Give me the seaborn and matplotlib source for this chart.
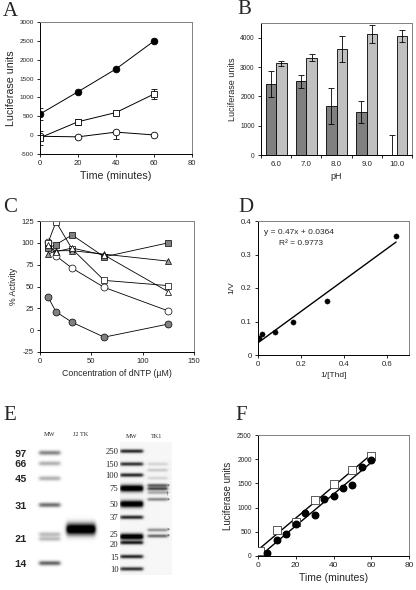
import matplotlib
matplotlib.use("Agg")
import matplotlib.pyplot as plt
import numpy as np
import pandas as pd
import seaborn as sns

# ---- panel A: luciferase units vs time ----
time_a = [0, 20, 40, 60]
a_filled = [560, 1150, 1755, 2495]
a_filled_err = [150, 0, 0, 0]
a_square = [-70, 355, 600, 1090]
a_square_err = [190, 80, 40, 140]
a_open = [-30, -45, 80, 5]
a_open_err_lo = [60, 20, 190, 30]
a_open_err_hi = [60, 20, 0, 30]

# ---- panel B: pH profile ----
ph_labels = ["6.0", "7.0", "8.0", "9.0", "10.0"]
b_dark = [2430, 2520, 1660, 1450, 0]
b_dark_err = [440, 220, 610, 375, 670]
b_light = [3120, 3320, 3620, 4130, 4055]
b_light_err = [70, 130, 440, 310, 200]

# ---- panel C: dNTP inhibition ----
dntp_conc = [7.8, 15.6, 31.25, 62.5, 125]
c_gray_circles = [38, 21, 9, -8, 7]
c_open_circles = [101, 85, 71, 49, 22]
c_open_squares = [100, 124, 93, 57, 51]
c_gray_squares = [94, 98, 109, 84, 100]
c_gray_triangles = [87, 91, 91, 87, 79]
c_open_triangles = [97, 90, 94, 86, 44]

# ---- panel D: double reciprocal ----
inv_thd = [0.005, 0.02, 0.08, 0.16, 0.32, 0.64]
inv_v = [0.051, 0.062, 0.070, 0.100, 0.160, 0.355]
fit_slope = 0.47
fit_intercept = 0.0364
fit_r2 = 0.9773

# ---- panel E: SDS-PAGE gels (migration in % of gel length) ----
gel1_tick_kda = ["97", "66", "45", "31", "21", "14"]
gel1_tick_mig = [9.4, 17.3, 28.4, 48.1, 72.8, 91.3]
gel1_ladder_mig = [9.4, 17.3, 28.4, 48.1, 69.9, 73.3, 91.3]
gel1_ladder_int = [0.55, 0.35, 0.35, 0.65, 0.3, 0.3, 0.7]
j2tk_mig = 66.1
gel2_tick_kda = ["250", "150", "100", "75", "50", "37", "25", "20", "15", "10"]
gel2_tick_mig = [6.8, 16.5, 24.8, 34.8, 46.6, 56.6, 68.8, 77.0, 86.2, 95.5]
gel2_ladder_mig = [6.8, 16.5, 24.8, 34.8, 46.6, 56.6, 71.2, 75.7, 86.2, 95.5]
gel2_ladder_int = [0.95, 0.9, 0.95, 1.4, 1.4, 0.95, 1.4, 1.0, 0.95, 0.9]
gel2_ladder_sig = [1.0, 1.0, 1.0, 1.8, 1.8, 1.0, 1.6, 1.0, 1.0, 1.0]
tk1_mig = [16.5, 21.1, 27.1, 32.6, 35.1, 38.0, 43.1, 66.2, 70.7]
tk1_int = [0.15, 0.2, 0.15, 0.7, 0.8, 0.35, 0.5, 0.45, 0.65]
tk1_marks = ["*", "†", "*", "*", "*"]
tk1_mark_mig = [33.0, 38.5, 43.5, 66.2, 70.9]

# ---- panel F: luciferase time course ----
f_sq_time = [1, 10, 20, 30, 40, 50, 60]
f_sq_units = [110, 530, 710, 1150, 1480, 1775, 2060]
f_ci_time = [5, 10, 15, 20, 25, 30, 35, 40, 45, 50, 55, 60]
f_ci_units = [65, 330, 460, 670, 880, 850, 1185, 1245, 1400, 1470, 1845, 1980]

sns.set_theme(style="ticks")
plt.rcParams["font.family"] = ["Liberation Sans", "DejaVu Sans"]
plt.rcParams["axes.linewidth"] = 0.7
plt.rcParams["axes.unicode_minus"] = False

W, H = 416, 590
fig = plt.figure(figsize=(W / 100, H / 100), dpi=100)


def px_axes(left, top, right, bottom):
    return fig.add_axes([left / W, 1 - bottom / H, (right - left) / W, (bottom - top) / H])


def box_style(ax, xsize=5.5, ysize=5):
    for side in ["left", "bottom"]:
        ax.spines[side].set_color("black")
    for side in ["top", "right"]:
        ax.spines[side].set_visible(True)
        ax.spines[side].set_color("#808080")
    ax.tick_params(axis="x", labelsize=xsize, length=2.5, width=0.7, pad=2, direction="out")
    ax.tick_params(axis="y", labelsize=ysize, length=2.5, width=0.7, pad=2, direction="out")


def letter(x, y, s):
    fig.text(x / W, 1 - y / H, s, family="Liberation Serif", fontsize=15, va="center", ha="left")


line_kws = dict(color="black", lw=0.7, markeredgecolor="black", markeredgewidth=0.6)

# ---- A ----
ax = px_axes(40, 22, 192, 154)
ax.errorbar(time_a, a_filled, yerr=a_filled_err, fmt="none", ecolor="black", elinewidth=0.6, capsize=2, capthick=0.6)
ax.errorbar(time_a, a_square, yerr=a_square_err, fmt="none", ecolor="black", elinewidth=0.6, capsize=2, capthick=0.6)
ax.errorbar(time_a, a_open, yerr=[a_open_err_lo, a_open_err_hi], fmt="none", ecolor="black", elinewidth=0.6, capsize=2, capthick=0.6)
sns.lineplot(x=time_a, y=a_open, ax=ax, marker="o", markersize=4.8, markerfacecolor="white", **line_kws)
sns.lineplot(x=time_a, y=a_square, ax=ax, marker="s", markersize=4.8, markerfacecolor="white", **line_kws)
sns.lineplot(x=time_a, y=a_filled, ax=ax, marker="o", markersize=4.8, markerfacecolor="black", **line_kws)
ax.set_xlim(0, 80)
ax.set_ylim(-500, 3000)
ax.set_xticks([0, 20, 40, 60, 80])
ax.set_yticks(range(-500, 3001, 500))
box_style(ax, 5.5, 4.6)
ax.set_xlabel("Time (minutes)", fontsize=7.7, labelpad=3)
ax.set_ylabel("Luciferase units", fontsize=7.7, labelpad=2)
letter(3, 11, "A")

# ---- B ----
ax = px_axes(261, 23, 412, 155)
df_b = pd.DataFrame({
    "pH": ph_labels * 2,
    "units": b_dark + b_light,
    "series": ["dark"] * len(ph_labels) + ["light"] * len(ph_labels),
})
sns.barplot(data=df_b, x="pH", y="units", hue="series", palette=["#808080", "#c0c0c0"],
            edgecolor="black", linewidth=0.6, width=0.69, errorbar=None, legend=False, ax=ax)
for cont, errs in zip(ax.containers, [b_dark_err, b_light_err]):
    for bar, err in zip(cont, errs):
        ax.errorbar(bar.get_x() + bar.get_width() / 2, bar.get_height(), yerr=err, fmt="none",
                    ecolor="black", elinewidth=0.6, capsize=2.5, capthick=0.6)
ax.set_xlim(-0.5, len(ph_labels) - 0.5)
ax.set_ylim(0, 4500)
ax.set_yticks(range(0, 4001, 1000))
box_style(ax, 5.7, 4.8)
ax.set_xticks(np.arange(len(ph_labels) + 1) - 0.5, minor=True)
ax.tick_params(axis="x", which="major", length=0, pad=4)
ax.tick_params(axis="x", which="minor", length=2.5, width=0.7)
ax.set_xlabel("pH", fontsize=6.5, labelpad=3)
ax.set_ylabel("Luciferase units", fontsize=6.5, labelpad=2)
letter(237, 10, "B")

# ---- C ----
ax = px_axes(40, 221, 194, 352)
c_series = [
    (c_gray_circles, "o", "#808080"),
    (c_open_circles, "o", "white"),
    (c_open_squares, "s", "white"),
    (c_gray_squares, "s", "#808080"),
    (c_gray_triangles, "^", "#999999"),
    (c_open_triangles, "^", "white"),
]
for vals, mk, fc in c_series:
    sns.lineplot(x=dntp_conc, y=vals, ax=ax, marker=mk, markersize=5, markerfacecolor=fc,
                 color="black", lw=0.6, markeredgecolor="black", markeredgewidth=0.5)
ax.set_xlim(0, 150)
ax.set_ylim(-25, 125)
ax.set_xticks([0, 50, 100, 150])
ax.set_yticks(range(-25, 126, 25))
box_style(ax, 5.5, 5.5)
ax.set_xlabel("Concentration of dNTP (µM)", fontsize=6.3, labelpad=3)
ax.set_ylabel("% Activity", fontsize=6.3, labelpad=2)
letter(3, 207, "C")

# ---- D ----
ax = px_axes(258, 221, 409, 355)
fit_x = np.array([min(inv_thd), max(inv_thd)])
sns.lineplot(x=fit_x, y=fit_slope * fit_x + fit_intercept, ax=ax, color="black", lw=1.0)
sns.scatterplot(x=inv_thd, y=inv_v, ax=ax, color="black", s=14, edgecolor="black", linewidth=0.3, zorder=3)
ax.set_xlim(0, 0.7)
ax.set_ylim(0, 0.4)
ax.set_xticks([0, 0.2, 0.4, 0.6], ["0", "0.2", "0.4", "0.6"])
ax.set_yticks([0, 0.1, 0.2, 0.3, 0.4], ["0", "0.1", "0.2", "0.3", "0.4"])
box_style(ax, 5.6, 5.6)
ax.text(0.042, 0.916, f"y = {fit_slope}x + {fit_intercept}", transform=ax.transAxes, fontsize=6, va="center")
ax.text(0.139, 0.834, f"R² = {fit_r2}", transform=ax.transAxes, fontsize=6, va="center")
ax.set_xlabel("1/[Thd]", fontsize=6, labelpad=3)
ax.set_ylabel("1/V", fontsize=6, labelpad=4)
letter(238, 207, "D")


# ---- E: gels ----
def draw_gel(ax, lanes, widths, bands, xlim, background):
    xs = np.linspace(xlim[0], xlim[1], 300)
    ys = np.linspace(0, 100, 500)
    X, Y = np.meshgrid(xs, ys)
    img = np.full(X.shape, background)
    for lane, mig, inten, sig in bands:
        c, w = lanes[lane], widths[lane]
        prof = 1 / (1 + np.exp(-(X - (c - w / 2)) / 0.03)) / (1 + np.exp((X - (c + w / 2)) / 0.03))
        img += inten * np.exp(-(Y - mig) ** 2 / (2 * sig ** 2)) * prof
    ax.imshow(img, cmap="gray_r", vmin=0, vmax=1.15, extent=(xlim[0], xlim[1], 100, 0),
              aspect="auto", interpolation="bilinear")
    for s in ax.spines.values():
        s.set_visible(False)


ax = px_axes(34, 440, 103, 575)
bands1 = [(0, m, i, 1.2) for m, i in zip(gel1_ladder_mig, gel1_ladder_int)]
bands1.append((1, j2tk_mig, 1.5, 3.0))
draw_gel(ax, [0, 1], [0.67, 0.92], bands1, (-0.5, 1.7), 0.0)
ax.set_yticks(gel1_tick_mig, gel1_tick_kda, family="Liberation Mono", fontweight="bold", fontsize=7.5)
ax.tick_params(axis="y", length=0, pad=5)
ax.xaxis.tick_top()
ax.set_xticks([0, 1], ["MW", "J2 TK"], family="Liberation Serif", fontsize=4.5)
ax.tick_params(axis="x", length=0, pad=2)

ax = px_axes(120, 442, 171, 575)
bands2 = [(0, m, i, s) for m, i, s in zip(gel2_ladder_mig, gel2_ladder_int, gel2_ladder_sig)]
bands2 += [(1, m, i, 0.9) for m, i in zip(tk1_mig, tk1_int)]
draw_gel(ax, [0, 1], [0.87, 0.77], bands2, (-0.45, 1.55), 0.04)
ax.set_yticks(gel2_tick_mig, gel2_tick_kda, family="Liberation Serif", fontsize=6.2)
ax.tick_params(axis="y", length=0, pad=1)
ax.xaxis.tick_top()
ax.set_xticks([0, 1], ["MW", "TK1"], family="Liberation Serif", fontsize=4.5)
ax.tick_params(axis="x", length=0, pad=2)
for m, s in zip(tk1_mark_mig, tk1_marks):
    ax.text(1.42, m, s, fontsize=4, family="Liberation Serif", ha="center", va="center", color="#333333")
letter(3, 415, "E")

# ---- F ----
ax = px_axes(258, 435, 409, 556)
sns.regplot(x=f_sq_time, y=f_sq_units, ax=ax, ci=None, marker="s",
            scatter_kws=dict(s=26, facecolors="white", edgecolors="#404040", linewidths=0.6, alpha=1, zorder=3),
            line_kws=dict(color="black", lw=1.0))
sns.regplot(x=f_ci_time, y=f_ci_units, ax=ax, ci=None, marker="o",
            scatter_kws=dict(s=22, color="black", alpha=1, zorder=3),
            line_kws=dict(color="black", lw=1.0))
ax.set_xlim(0, 80)
ax.set_ylim(0, 2500)
ax.set_xticks([0, 20, 40, 60, 80])
ax.set_yticks(range(0, 2501, 500))
box_style(ax, 6, 4.8)
ax.set_xlabel("Time (minutes)", fontsize=7.5, labelpad=3)
ax.set_ylabel("Luciferase units", fontsize=7, labelpad=3)
letter(235, 415, "F")

fig.savefig("out.png", dpi=100, facecolor="white")
